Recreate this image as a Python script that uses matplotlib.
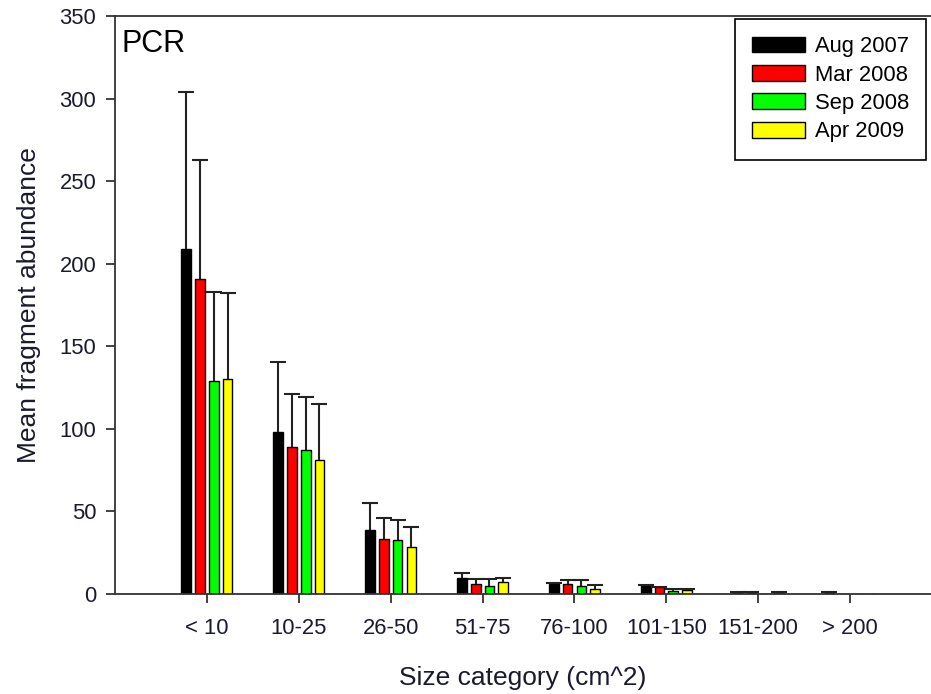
import matplotlib
matplotlib.use('Agg')
import matplotlib.pyplot as plt
import numpy as np

plt.rcParams['font.family'] = ['Liberation Sans', 'DejaVu Sans']

categories = ['< 10', '10-25', '26-50', '51-75', '76-100', '101-150', '151-200', '> 200']
series_names = ['Aug 2007', 'Mar 2008', 'Sep 2008', 'Apr 2009']

aug07 = [209, 98, 39, 9.5, 6.2, 5.2, 1.0, 1.0]
aug07_err = [95, 42.5, 16, 3, 0.4, 0.4, 0.3, 0.3]
mar08 = [191, 89, 33.5, 6, 6, 4, 0.8, 0]
mar08_err = [72, 32, 12.5, 3, 2.5, 0.5, 0.2, 0]
sep08 = [129, 87, 32.5, 5, 5, 2, 0, 0]
sep08_err = [54, 32, 12.5, 4, 3.5, 1, 0, 0]
apr09 = [130, 81, 28.5, 7.5, 3, 2.5, 0.8, 0]
apr09_err = [52, 34, 12, 2, 2.5, 0.7, 0.2, 0]

means = [aug07, mar08, sep08, apr09]
errs = [aug07_err, mar08_err, sep08_err, apr09_err]
colors = ['#000000', '#ff0000', '#00ff00', '#ffff00']

fig = plt.figure(figsize=(9.31, 6.94), dpi=100)
ax = fig.add_axes([115 / 931, 1 - 594 / 694, 1 - 115 / 931, (594 - 16) / 694])

x = np.arange(len(categories))
slot = 0.15
width = 0.105
for i, (m, e, c, name) in enumerate(zip(means, errs, colors, series_names)):
    pos = x + (i - 1.5) * slot
    m = np.array(m, dtype=float)
    e = np.array(e, dtype=float)
    ax.bar(pos, m, width, color=c, edgecolor='black', linewidth=1, label=name, zorder=2)
    keep = m > 0
    # upper error only, hide the lower cap
    eb = ax.errorbar(pos[keep], m[keep], yerr=[np.zeros(keep.sum()), e[keep]],
                     fmt='none', ecolor='#222222', elinewidth=1.5, capsize=5.8,
                     capthick=1.5, zorder=3)
    eb[1][0].set_visible(False)

ax.set_xlim(-1.0, 7.88)
ax.set_ylim(0, 350)
ax.set_yticks(np.arange(0, 351, 50))
ax.set_xticks(x)
ax.set_xticklabels(categories)

for side in ['left', 'bottom', 'top']:
    ax.spines[side].set_linewidth(1.3)
    ax.spines[side].set_color('#333333')
ax.spines['right'].set_visible(False)
ax.tick_params(axis='both', labelsize=15.8, color='#333333', width=1.3, length=6.5,
               direction='out', labelcolor='#1a1a2e')
ax.tick_params(axis='x', pad=11)
ax.tick_params(axis='y', pad=7)

ax.set_ylabel('Mean fragment abundance', fontsize=19, labelpad=13, color='#1a1a2e')
ax.set_xlabel('Size category (cm^2)', fontsize=19, labelpad=19, color='#1a1a2e')

ax.text(0.008, 0.978, 'PCR', transform=ax.transAxes, fontsize=22, va='top', ha='left')

leg = ax.legend(loc='upper right', bbox_to_anchor=(926 / 931, 1 - 19 / 694),
                bbox_transform=fig.transFigure, fontsize=15.8, fancybox=False,
                framealpha=1, edgecolor='black', handlelength=2.4,
                handleheight=0.73, labelspacing=0.34, borderpad=0.78,
                handletextpad=0.45, borderaxespad=0)
leg.get_frame().set_linewidth(1.2)

fig.savefig('out.png', dpi=100)
